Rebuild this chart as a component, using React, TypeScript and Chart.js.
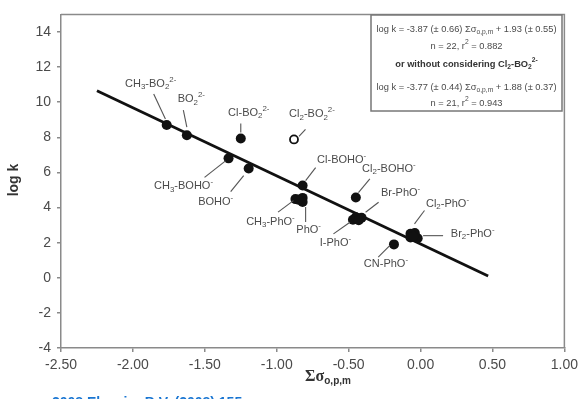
import React, { useEffect, useRef } from "react";
import { Chart, registerables } from "chart.js";
Chart.register(...registerables);

// ---------- data ----------
const xTicks = [-2.5, -2.0, -1.5, -1.0, -0.5, 0.0, 0.5, 1.0];
const yTicks = [-4, -2, 0, 2, 4, 6, 8, 10, 12, 14];

// filled points (n = 22)
const compoundX = [-1.765, -1.625, -1.25, -1.335, -1.195, -0.82, -0.87, -0.82, -0.82, -0.45, -0.47, -0.44, -0.41, -0.45, -0.07, -0.04, -0.07, -0.02, -0.05, -0.185, -0.85, -0.43];
const compoundY = [8.7, 8.12, 7.93, 6.8, 6.22, 5.25, 4.48, 4.55, 4.32, 4.57, 3.3, 3.35, 3.42, 3.45, 2.5, 2.55, 2.3, 2.25, 2.35, 1.9, 4.45, 3.28];

// open point (Cl2-BO2 2-)
const hollowX = [-0.88];
const hollowY = [7.88];

// regression line end points
const lineX = [-2.25, 0.47];
const lineY = [10.65, 0.1];

// point labels (index into compound arrays, -1 = open point)
const labelTexts = ["CH_{3}-BO_{2}^{2-}", "BO_{2}^{2-}", "Cl-BO_{2}^{2-}", "CH_{3}-BOHO^{-}", "BOHO^{-}", "Cl_{2}-BO_{2}^{2-}", "Cl-BOHO^{-}", "CH_{3}-PhO^{-}", "PhO^{-}", "Cl_{2}-BOHO^{-}", "Br-PhO^{-}", "I-PhO^{-}", "Cl_{2}-PhO^{-}", "Br_{2}-PhO^{-}", "CN-PhO^{-}"];
const labelPoint = [0, 1, 2, 3, 4, -1, 5, 6, 8, 9, 12, 10, 14, 17, 19];

const boxLines = [
  "log k = -3.87 (± 0.66) Σσ_{o,p,m} + 1.93 (± 0.55)",
  "n = 22, r^{2} = 0.882",
  "or without considering Cl_{2}-BO_{2}^{2-}",
  "log k = -3.77 (± 0.44) Σσ_{o,p,m} + 1.88 (± 0.37)",
  "n = 21, r^{2} = 0.943",
];
const yTitle = "log k";
const xTitle = "Σσ";
const xTitleSub = "o,p,m";
const footerText = "2008 Elsevier B.V. (2008) 155";

// ---------- layout / style (pixel offsets, not data) ----------
// [labelDx, labelDy, leaderX1, leaderY1, leaderX2, leaderY2] relative to the point pixel
const labelLayout = [
  [-16, -41, -13, -31, -1.3, -6],
  [4.5, -36, -3.5, -25, 0, -8],
  [8, -26, 0, -15, 0, -6],
  [-45, 28, -24, 19, -3, 2.5],
  [-33, 33, -18, 23, -5, 7],
  [18, -25, 11.5, -10, 5, -3],
  [39, -26, 13, -18, 3, -5],
  [-25, 22.5, -17.4, 13, -2, 1.5],
  [6, 28, 3, 5, 3, 20],
  [33, -29, 14, -18.6, 2.6, -5],
  [39, -25, 17, -15.5, 4, -5.5],
  [-17.5, 23, -19.5, 14, -3, 2.4],
  [37, -30, 14, -23.4, 4, -10],
  [55, -4.5, 5.4, -2.6, 25.4, -2.6],
  [-8, 20, -15.7, 12.7, -4, 1],
];

const SANS = 'Arial, "Liberation Sans", Helvetica, sans-serif';
const SERIF = '"Times New Roman", "Liberation Serif", serif';
const TEXT = "#4a4a4a";
const AXIS = "#8a8a8a";

type Part = { t: string; k: "n" | "sub" | "sup" };
function parse(s: string): Part[] {
  const out: Part[] = [];
  const re = /(_\{[^}]*\}|\^\{[^}]*\})/g;
  let last = 0;
  let m: RegExpExecArray | null;
  while ((m = re.exec(s))) {
    if (m.index > last) out.push({ t: s.slice(last, m.index), k: "n" });
    const tok = m[0];
    out.push({ t: tok.slice(2, -1), k: tok[0] === "_" ? "sub" : "sup" });
    last = m.index + tok.length;
  }
  if (last < s.length) out.push({ t: s.slice(last), k: "n" });
  return out;
}

function drawRich(ctx: CanvasRenderingContext2D, s: string, cx: number, cy: number, size: number, bold: boolean, color: string) {
  const parts = parse(s);
  const w = bold ? "bold " : "";
  const small = size * 0.72;
  const fontFor = (p: Part) => `${w}${p.k === "n" ? size : small}px ${SANS}`;
  let total = 0;
  const widths = parts.map((p) => {
    ctx.font = fontFor(p);
    const mw = ctx.measureText(p.t).width;
    total += mw;
    return mw;
  });
  let x = cx - total / 2;
  ctx.fillStyle = color;
  ctx.textBaseline = "middle";
  ctx.textAlign = "left";
  parts.forEach((p, i) => {
    ctx.font = fontFor(p);
    const dy = p.k === "sub" ? size * 0.3 : p.k === "sup" ? -size * 0.38 : 0;
    ctx.fillText(p.t, x, cy + dy);
    x += widths[i];
  });
}

const decorPlugin = {
  id: "decor",
  afterDatasetsDraw(chart: any) {
    const ctx: CanvasRenderingContext2D = chart.ctx;
    const xs = chart.scales.x;
    const ys = chart.scales.y;
    const area = chart.chartArea;
    ctx.save();
    // frame top/right
    ctx.strokeStyle = AXIS;
    ctx.lineWidth = 1.5;
    ctx.beginPath();
    ctx.moveTo(area.left, area.top);
    ctx.lineTo(area.right, area.top);
    ctx.lineTo(area.right, area.bottom);
    ctx.stroke();

    // labels and leader lines
    labelTexts.forEach((txt, i) => {
      const idx = labelPoint[i];
      const vx = idx < 0 ? hollowX[0] : compoundX[idx];
      const vy = idx < 0 ? hollowY[0] : compoundY[idx];
      const px = xs.getPixelForValue(vx);
      const py = ys.getPixelForValue(vy);
      const [dx, dy, x1, y1, x2, y2] = labelLayout[i];
      ctx.strokeStyle = "#555";
      ctx.lineWidth = 1.1;
      ctx.beginPath();
      ctx.moveTo(px + x1, py + y1);
      ctx.lineTo(px + x2, py + y2);
      ctx.stroke();
      drawRich(ctx, txt, px + dx, py + dy, 11, false, TEXT);
    });

    // equation box
    const bx = 371, by = 15, bw = 191, bh = 96;
    ctx.fillStyle = "#fff";
    ctx.fillRect(bx, by, bw, bh);
    ctx.strokeStyle = "#777";
    ctx.lineWidth = 1.5;
    ctx.strokeRect(bx, by, bw, bh);
    const lineYs = [29, 46, 64, 87, 103];
    boxLines.forEach((l, i) => {
      drawRich(ctx, l, bx + bw / 2, lineYs[i], 9.3, i === 2, i === 2 ? "#333" : TEXT);
    });

    // axis titles
    ctx.save();
    ctx.translate(14, 180);
    ctx.rotate(-Math.PI / 2);
    ctx.font = `bold 14px ${SANS}`;
    ctx.fillStyle = "#333";
    ctx.textAlign = "center";
    ctx.textBaseline = "middle";
    ctx.fillText(yTitle, 0, 0);
    ctx.restore();

    ctx.font = `bold 16px ${SERIF}`;
    const w1 = ctx.measureText(xTitle).width;
    ctx.font = `bold 10px ${SANS}`;
    const w2 = ctx.measureText(xTitleSub).width;
    const sx = 328 - (w1 + w2) / 2;
    ctx.fillStyle = "#333";
    ctx.textAlign = "left";
    ctx.textBaseline = "alphabetic";
    ctx.font = `bold 16px ${SERIF}`;
    ctx.fillText(xTitle, sx, 381);
    ctx.font = `bold 10px ${SANS}`;
    ctx.fillText(xTitleSub, sx + w1, 384);

    // cropped footer (only the tops of the glyphs are visible)
    ctx.font = `bold 14px ${SANS}`;
    ctx.fillStyle = "#1a76d2";
    ctx.fillText(footerText, 52, 407);
    ctx.restore();
  },
};

export default function App() {
  const ref = useRef<HTMLCanvasElement | null>(null);
  useEffect(() => {
    if (!ref.current) return;
    const chart = new Chart(ref.current, {
      type: "scatter",
      data: {
        datasets: [
          {
            data: compoundX.map((x, i) => ({ x, y: compoundY[i] })),
            pointRadius: 5,
            pointBackgroundColor: "#111",
            pointBorderWidth: 0,
            showLine: false,
          },
          {
            data: hollowX.map((x, i) => ({ x, y: hollowY[i] })),
            pointRadius: 4,
            pointBackgroundColor: "#fff",
            pointBorderColor: "#111",
            pointBorderWidth: 1.8,
            showLine: false,
          },
          {
            data: lineX.map((x, i) => ({ x, y: lineY[i] })),
            showLine: true,
            borderColor: "#111",
            borderWidth: 2.8,
            pointRadius: 0,
          },
        ],
      },
      options: {
        animation: false,
        responsive: false,
        maintainAspectRatio: false,
        layout: { padding: { top: 13, right: 16, left: 0, bottom: 0 } },
        plugins: { legend: { display: false }, tooltip: { enabled: false } },
        scales: {
          x: {
            type: "linear",
            min: -2.5,
            max: 1,
            afterBuildTicks: (s: any) => {
              s.ticks = xTicks.map((v) => ({ value: v }));
            },
            afterFit: (s: any) => {
              s.height = 51;
            },
            ticks: {
              autoSkip: false,
              maxRotation: 0,
              padding: 5,
              color: TEXT,
              font: { family: SANS, size: 14 },
              callback: (v: any) => Number(v).toFixed(2),
            },
            grid: { display: true, drawOnChartArea: false, drawTicks: true, tickLength: 4, color: AXIS, lineWidth: 1.5 },
            border: { display: true, color: AXIS, width: 1.5 },
          },
          y: {
            type: "linear",
            min: -4,
            max: 15,
            afterBuildTicks: (s: any) => {
              s.ticks = yTicks.map((v) => ({ value: v }));
            },
            afterFit: (s: any) => {
              s.width = 61;
            },
            ticks: {
              autoSkip: false,
              padding: 6,
              color: TEXT,
              font: { family: SANS, size: 14 },
            },
            grid: { display: true, drawOnChartArea: false, drawTicks: true, tickLength: 4, color: AXIS, lineWidth: 1.5 },
            border: { display: true, color: AXIS, width: 1.5 },
          },
        },
      },
      plugins: [decorPlugin],
    } as any);
    return () => chart.destroy();
  }, []);
  return (
    <div style={{ position: "fixed", left: 0, top: 0, width: 583, height: 399, background: "#fff" }}>
      <canvas ref={ref} width={583} height={399} style={{ display: "block" }} />
    </div>
  );
}
